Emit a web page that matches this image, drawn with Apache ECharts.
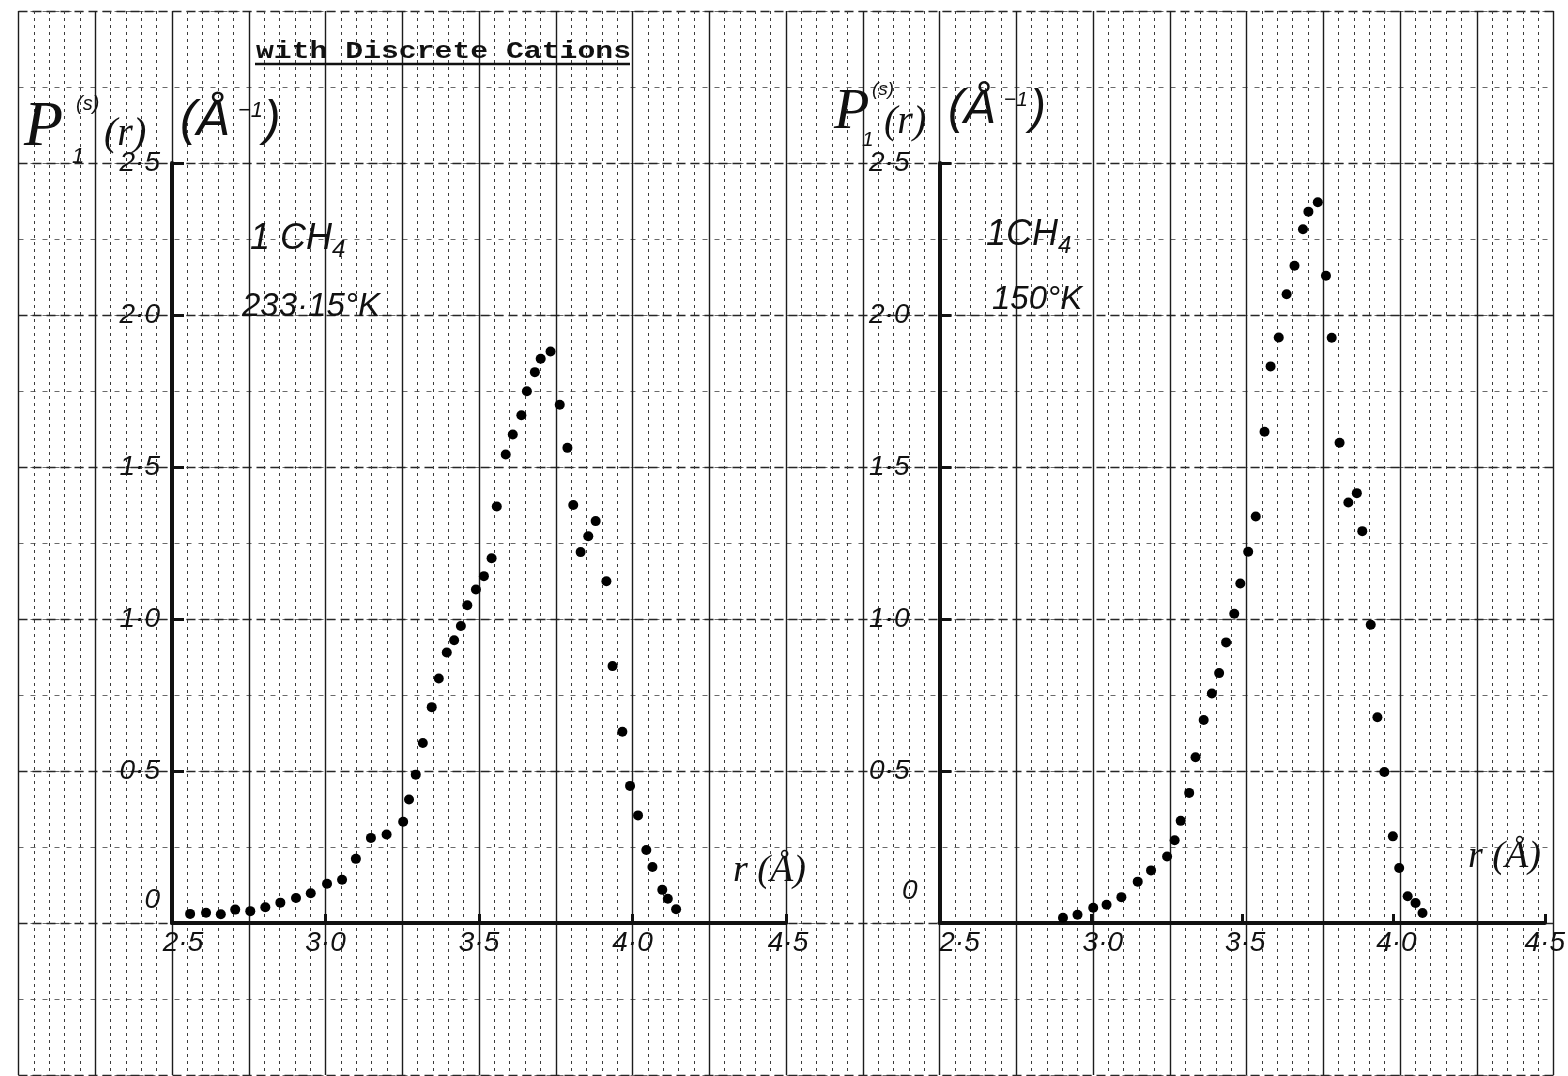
<!DOCTYPE html>
<html>
<head>
<meta charset="utf-8">
<title>P1(s)(r) for CH4 with discrete cations</title>
<script src="https://cdn.jsdelivr.net/npm/echarts@6/dist/echarts.min.js"></script>
<style>
  html, body { margin: 0; padding: 0; background: #ffffff; }
  #chart { width: 1568px; height: 1076px; }
</style>
</head>
<body>
<div id="chart"></div>
<script>
// Singlet distribution P1(s)(r) of one CH4 molecule, 233.15 K (left) and 150 K (right)
const leftR = [2.559, 2.611, 2.659, 2.706, 2.755, 2.804, 2.853, 2.904, 2.952, 3.005,
               3.054, 3.099, 3.148, 3.199, 3.253, 3.272, 3.294, 3.317, 3.346, 3.369,
               3.395, 3.419, 3.441, 3.462, 3.490, 3.516, 3.541, 3.558, 3.587, 3.610,
               3.638, 3.656, 3.682, 3.701, 3.733, 3.763, 3.788, 3.807, 3.831, 3.856,
               3.880, 3.915, 3.935, 3.967, 3.992, 4.018, 4.045, 4.065, 4.097, 4.115,
               4.142];
const leftP = [0.030, 0.034, 0.029, 0.044, 0.039, 0.052, 0.067, 0.082, 0.098, 0.129,
               0.142, 0.211, 0.280, 0.291, 0.333, 0.406, 0.488, 0.592, 0.710, 0.804,
               0.890, 0.930, 0.977, 1.045, 1.097, 1.141, 1.200, 1.370, 1.541, 1.607,
               1.670, 1.749, 1.812, 1.856, 1.880, 1.705, 1.563, 1.375, 1.220, 1.272,
               1.322, 1.124, 0.845, 0.629, 0.451, 0.354, 0.240, 0.184, 0.109, 0.080,
               0.045];

const rightR = [2.908, 2.956, 3.008, 3.052, 3.101, 3.155, 3.199, 3.252, 3.277, 3.297,
                3.325, 3.346, 3.373, 3.400, 3.424, 3.447, 3.474, 3.494, 3.520, 3.545,
                3.574, 3.594, 3.621, 3.647, 3.673, 3.701, 3.719, 3.750, 3.777, 3.796,
                3.822, 3.851, 3.879, 3.897, 3.925, 3.947, 3.970, 3.998, 4.019, 4.047,
                4.073, 4.096];
const rightP = [0.017, 0.027, 0.050, 0.060, 0.085, 0.136, 0.173, 0.219, 0.272, 0.336,
                0.428, 0.545, 0.668, 0.755, 0.822, 0.923, 1.017, 1.117, 1.221, 1.337,
                1.616, 1.831, 1.926, 2.068, 2.162, 2.282, 2.340, 2.371, 2.129, 1.925,
                1.580, 1.383, 1.414, 1.289, 0.981, 0.677, 0.497, 0.285, 0.181, 0.088,
                0.066, 0.033];

// Tick labels, written with the raised decimal point
const xTickLabels = ['2·5', '3·0', '3·5', '4·0', '4·5'];
const yTickLabels = ['0', '0·5', '1·0', '1·5', '2·0', '2·5'];

const HAND = '"Liberation Sans", "DejaVu Sans", sans-serif';
const SERIF = '"Liberation Serif", "DejaVu Serif", serif';
const INK = '#111111';
const TICK_FONT = 28;

function zip(xs, ys) { return xs.map((x, i) => [x, ys[i]]); }

// Graph paper: 20 columns of 0.25 Å, each split in 5, rows of 0.25 units
const UNIT_X = 76.75;
const UNIT_Y = 76;
const PAPER_LEFT = 18.5;
const PAPER_TOP = 11;
const PANEL_TOP = PAPER_TOP + 2 * UNIT_Y;           // 2.5 line
const PANEL_H = 10 * UNIT_Y;                        // 0 .. 2.5
const PANEL_W = 8 * UNIT_X;                         // 2.5 .. 4.5
const LEFT_PANEL_X = PAPER_LEFT + 2 * UNIT_X;
const RIGHT_PANEL_X = PAPER_LEFT + 12 * UNIT_X;

function panelX(gridIndex, shifts) {
  const rich = {};
  xTickLabels.forEach((t, i) => {
    rich['x' + i] = { fontFamily: HAND, fontStyle: 'italic', fontSize: TICK_FONT, color: INK,
                      padding: [0, 0, 0, shifts[i] || 0] };
  });
  return {
    type: 'value', gridIndex, min: 2.5, max: 4.5, interval: 0.5,
    axisLine: { show: true, onZero: false, lineStyle: { color: INK, width: 4 } },
    axisTick: { show: true, inside: true, length: 9, lineStyle: { color: INK, width: 3 } },
    splitLine: { show: false },
    axisLabel: {
      margin: 6,
      formatter: v => { const i = Math.round((v - 2.5) / 0.5); return '{x' + i + '|' + xTickLabels[i] + '}'; },
      rich
    }
  };
}

function panelY(gridIndex, margin, zeroLift, otherPad) {
  return {
    type: 'value', gridIndex, min: 0, max: 2.5, interval: 0.5,
    axisLine: { show: true, onZero: false, lineStyle: { color: INK, width: 4 } },
    axisTick: { show: true, inside: true, length: 12, lineStyle: { color: INK, width: 3 } },
    splitLine: { show: false },
    axisLabel: {
      margin,
      formatter: v => { const i = Math.round(v / 0.5); return (i === 0 ? '{z|' : '{n|') + yTickLabels[i] + '}'; },
      rich: {
        n: { fontFamily: HAND, fontStyle: 'italic', fontSize: TICK_FONT, color: INK, padding: [0, otherPad, 0, 0] },
        z: { fontFamily: HAND, fontStyle: 'italic', fontSize: TICK_FONT, color: INK, padding: [0, 0, zeroLift, 0] }
      }
    }
  };
}

const chart = echarts.init(document.getElementById('chart'), null, { renderer: 'canvas' });

const option = {
  backgroundColor: '#ffffff',
  animation: false,
  grid: [
    { left: PAPER_LEFT, top: PAPER_TOP, width: 20 * UNIT_X, height: 14 * UNIT_Y },
    { left: LEFT_PANEL_X, top: PANEL_TOP, width: PANEL_W, height: PANEL_H },
    { left: RIGHT_PANEL_X, top: PANEL_TOP, width: PANEL_W, height: PANEL_H }
  ],
  xAxis: [
    {
      type: 'value', gridIndex: 0, min: 0, max: 20, interval: 1,
      axisLine: { show: false }, axisTick: { show: false }, axisLabel: { show: false },
      splitLine: { show: true, lineStyle: { color: '#1c1c1c', width: 1.4 } },
      minorTick: { show: false, splitNumber: 5 },
      minorSplitLine: { show: true, lineStyle: { color: '#3c3c3c', width: 1, type: [3, 4] } }
    },
    panelX(1, [22, 0, 0, 0, 4]),
    panelX(2, [40, 24, 6, 6, 0])
  ],
  yAxis: [
    {
      type: 'value', gridIndex: 0, min: 0, max: 14, interval: 1,
      axisLine: { show: false }, axisTick: { show: false }, axisLabel: { show: false },
      splitLine: { show: true, lineStyle: { color: '#6a6a6a', width: 1, type: [5, 7] } }
    },
    {
      type: 'value', gridIndex: 0, min: 0, max: 14, interval: 2,
      axisLine: { show: false }, axisTick: { show: false }, axisLabel: { show: false },
      splitLine: { show: true, lineStyle: { color: '#262626', width: 1.4, type: [9, 5] } }
    },
    panelY(1, 12, 46, 0),
    panelY(2, 22, 64, 8)
  ],
  series: [
    {
      name: '233.15 K', type: 'scatter', xAxisIndex: 1, yAxisIndex: 2,
      data: zip(leftR, leftP), symbol: 'circle', symbolSize: 10,
      itemStyle: { color: '#000000', opacity: 1 }
    },
    {
      name: '150 K', type: 'scatter', xAxisIndex: 2, yAxisIndex: 3,
      data: zip(rightR, rightP), symbol: 'circle', symbolSize: 10,
      itemStyle: { color: '#000000', opacity: 1 }
    }
  ],
  graphic: [
    // heading
    { type: 'text', x: 256, y: 40, scaleX: 1.24, z: 10,
      style: { text: 'with Discrete Cations', font: 'bold 24px "Liberation Mono", monospace', fill: INK } },
    { type: 'line', z: 10, shape: { x1: 255, y1: 64, x2: 630, y2: 64 },
      style: { stroke: INK, lineWidth: 2.5 } },

    // ordinate title, left panel
    { type: 'text', x: 24, y: 96, z: 10, style: { text: 'P', font: 'italic 64px ' + SERIF, fill: INK } },
    { type: 'text', x: 76, y: 94, z: 10, style: { text: '(s)', font: 'italic 20px ' + HAND, fill: INK } },
    { type: 'text', x: 72, y: 146, z: 10, style: { text: '1', font: 'italic 22px ' + HAND, fill: INK } },
    { type: 'text', x: 104, y: 114, z: 10, style: { text: '(r)', font: 'italic 40px ' + SERIF, fill: INK } },
    { type: 'text', x: 180, y: 96, z: 10, style: { text: '(Å', font: 'italic 50px ' + HAND, fill: INK } },
    { type: 'text', x: 238, y: 100, z: 10, style: { text: '−1', font: 'italic 22px ' + HAND, fill: INK } },
    { type: 'text', x: 264, y: 96, z: 10, style: { text: ')', font: 'italic 50px ' + HAND, fill: INK } },

    // ordinate title, right panel
    { type: 'text', x: 834, y: 84, z: 10, style: { text: 'P', font: 'italic 58px ' + SERIF, fill: INK } },
    { type: 'text', x: 872, y: 80, z: 10, style: { text: '(s)', font: 'italic 19px ' + HAND, fill: INK } },
    { type: 'text', x: 862, y: 130, z: 10, style: { text: '1', font: 'italic 21px ' + HAND, fill: INK } },
    { type: 'text', x: 884, y: 102, z: 10, style: { text: '(r)', font: 'italic 40px ' + SERIF, fill: INK } },
    { type: 'text', x: 948, y: 86, z: 10, style: { text: '(Å', font: 'italic 48px ' + HAND, fill: INK } },
    { type: 'text', x: 1004, y: 90, z: 10, style: { text: '−1', font: 'italic 21px ' + HAND, fill: INK } },
    { type: 'text', x: 1030, y: 86, z: 10, style: { text: ')', font: 'italic 48px ' + HAND, fill: INK } },

    // panel notes
    { type: 'text', x: 250, y: 216, z: 10,
      style: { text: '1 CH{s|4}', font: 'italic 36px ' + HAND, fill: INK,
               rich: { s: { fontFamily: HAND, fontStyle: 'italic', fontSize: 24, color: INK, padding: [22, 0, 0, 0], verticalAlign: 'top' } } } },
    { type: 'text', x: 242, y: 290, z: 10, style: { text: '233·15°K', font: 'italic 33px ' + HAND, fill: INK } },
    { type: 'text', x: 986, y: 212, z: 10,
      style: { text: '1CH{s|4}', font: 'italic 36px ' + HAND, fill: INK,
               rich: { s: { fontFamily: HAND, fontStyle: 'italic', fontSize: 24, color: INK, padding: [22, 0, 0, 0], verticalAlign: 'top' } } } },
    { type: 'text', x: 992, y: 283, z: 10, style: { text: '150°K', font: 'italic 33px ' + HAND, fill: INK } },

    // abscissa titles
    { type: 'text', x: 733, y: 852, z: 10, style: { text: 'r (Å)', font: 'italic 38px ' + SERIF, fill: INK } },
    { type: 'text', x: 1468, y: 838, z: 10, style: { text: 'r (Å)', font: 'italic 38px ' + SERIF, fill: INK } }
  ]
};

chart.setOption(option);
</script>
</body>
</html>
